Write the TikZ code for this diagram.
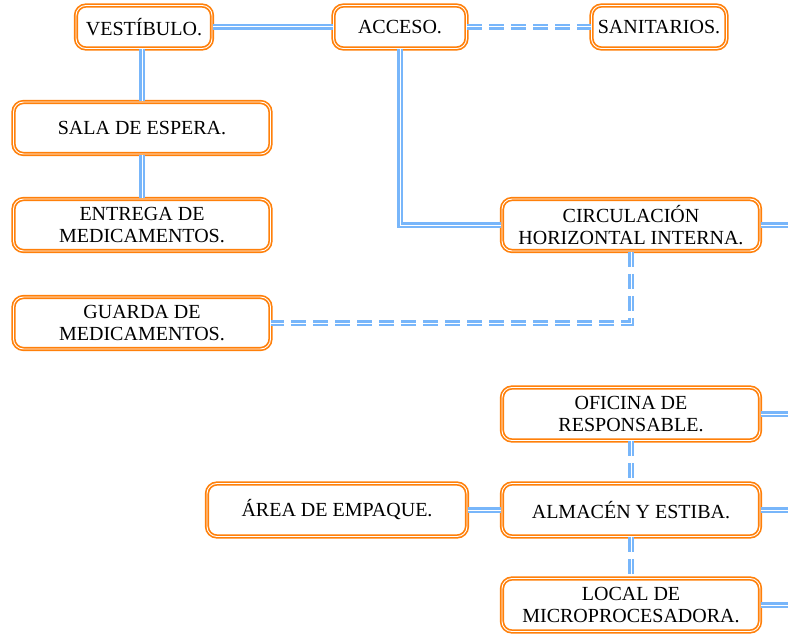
\documentclass[tikz,border=0pt]{standalone}
\usepackage{fontspec}
\setmainfont{Liberation Serif}
\definecolor{boxor}{RGB}{255,128,10}
\definecolor{linkbl}{RGB}{120,182,250}
\tikzset{
  box/.style={draw=boxor, line width=1.7pt, double=white, double distance=0.9pt,
    rounded corners=10pt, fill=white, inner sep=0pt, align=center,
    font=\fontsize{20}{22.5}\selectfont},
  link/.style={draw=linkbl, line width=2.2pt, double=white, double distance=1pt},
  dlink/.style={link, dash pattern=on 15pt off 7pt},
}
\begin{document}
\begin{tikzpicture}[x=1pt,y=-1pt]
\useasboundingbox (0,0) rectangle (788,634);
\clip (0,0) rectangle (788,634);
% off-page ends
\coordinate (cr) at (800,225);
\coordinate (or) at (800,414);
\coordinate (ar) at (800,510);
\coordinate (lr) at (800,605);
% nodes
\node[box, minimum width=136pt, minimum height=43pt] (vest) at (144,27) {VESTÍBULO.};
\node[box, minimum width=133pt, minimum height=43pt] (acc) at (400,27) {ACCESO.};
\node[box, minimum width=135pt, minimum height=43pt] (san) at (659,27) {SANITARIOS.};
\node[box, minimum width=257pt, minimum height=52pt] (sala) at (142,128) {SALA DE ESPERA.};
\node[box, minimum width=257pt, minimum height=52pt] (entr) at (142,225) {ENTREGA DE\\MEDICAMENTOS.};
\node[box, minimum width=257pt, minimum height=52pt] (guar) at (142,323) {GUARDA DE\\MEDICAMENTOS.};
\node[box, minimum width=258pt, minimum height=52pt] (circ) at (631,225) {CIRCULACIÓN\\HORIZONTAL INTERNA.};
\node[box, minimum width=258pt, minimum height=53pt] (ofic) at (631,414) {OFICINA DE\\RESPONSABLE.};
\node[box, minimum width=258pt, minimum height=53pt] (alm) at (631,510) {ALMACÉN Y ESTIBA.};
\node[box, minimum width=260pt, minimum height=53pt] (area) at (337,510) {ÁREA DE EMPAQUE.};
\node[box, minimum width=258pt, minimum height=53pt] (loc) at (631,605) {LOCAL DE\\MICROPROCESADORA.};
% connectors
\draw[link] (vest.east) -- (acc.west);
\draw[dlink] (acc.east) -- (san.west);
\draw[link] (vest.south -| sala.north) -- (sala.north);
\draw[link] (sala.south) -- (entr.north);
\draw[link] (acc.south) |- (circ.west);
\draw[link] (circ.east) -- (cr);
\draw[dlink] (circ.south) |- (guar.east);
\draw[link] (ofic.east) -- (or);
\draw[link] (alm.east) -- (ar);
\draw[link] (loc.east) -- (lr);
\draw[dlink] (ofic.south) -- (alm.north);
\draw[dlink] (alm.south) -- (loc.north);
\draw[link] (area.east) -- (alm.west);
\end{tikzpicture}
\end{document}
